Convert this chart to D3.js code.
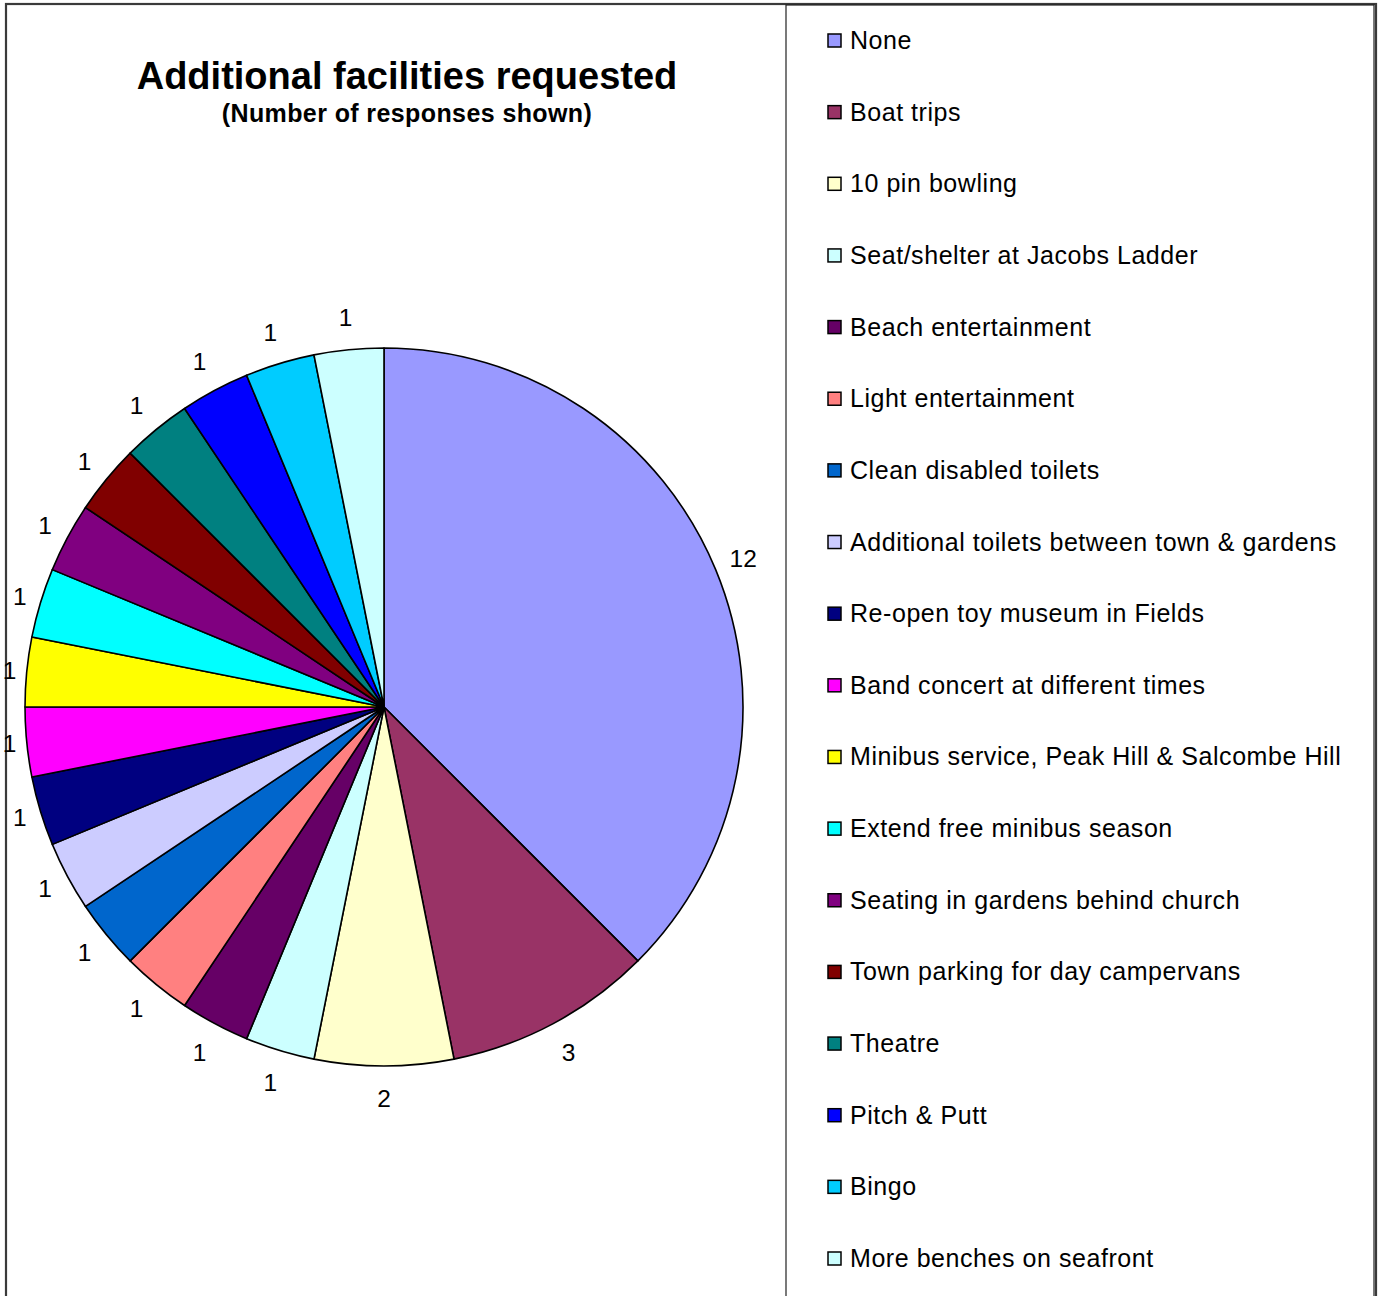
<!DOCTYPE html>
<html>
<head>
<meta charset="utf-8">
<script src="https://cdn.jsdelivr.net/npm/d3@7"></script>
<style>
html, body { margin: 0; padding: 0; background: #fff; }
svg { display: block; }
text { font-family: "Liberation Sans", Arial, sans-serif; fill: #000; }
</style>
</head>
<body>
<svg id="chart" width="1380" height="1296"></svg>
<script>
const categories = [
  "None", "Boat trips", "10 pin bowling", "Seat/shelter at Jacobs Ladder",
  "Beach entertainment", "Light entertainment", "Clean disabled toilets",
  "Additional toilets between town & gardens", "Re-open toy museum in Fields",
  "Band concert at different times", "Minibus service, Peak Hill & Salcombe Hill",
  "Extend free minibus season", "Seating in gardens behind church",
  "Town parking for day campervans", "Theatre", "Pitch & Putt", "Bingo",
  "More benches on seafront"
];
const values = [12, 3, 2, 1, 1, 1, 1, 1, 1, 1, 1, 1, 1, 1, 1, 1, 1, 1];
const colors = [
  "#9999FF", "#993366", "#FFFFCC", "#CCFFFF", "#660066", "#FF8080", "#0066CC",
  "#CCCCFF", "#000080", "#FF00FF", "#FFFF00", "#00FFFF", "#800080", "#800000",
  "#008080", "#0000FF", "#00CCFF", "#CCFFFF"
];
const titleText = "Additional facilities requested";
const subtitleText = "(Number of responses shown)";

const data = categories.map((c, i) => ({ name: c, value: values[i], color: colors[i] }));

const svg = d3.select("#chart");

// outer chart frame
svg.append("rect")
  .attr("x", 6).attr("y", 4).attr("width", 1370).attr("height", 1310)
  .attr("fill", "#fff").attr("stroke", "#3a3a3a").attr("stroke-width", 2.2);

// title
svg.append("text")
  .attr("x", 407).attr("y", 89)
  .attr("text-anchor", "middle")
  .style("font-size", "38px").style("font-weight", "bold")
  .text(titleText);
svg.append("text")
  .attr("x", 407).attr("y", 122)
  .attr("text-anchor", "middle")
  .style("font-size", "25px").style("font-weight", "bold")
  .style("letter-spacing", "0.4px")
  .text(subtitleText);

// pie
const cx = 384, cy = 707, R = 359;
const pie = d3.pie().sort(null).value(d => d.value);
const arcs = pie(data);
const arc = d3.arc().innerRadius(0).outerRadius(R);

const g = svg.append("g").attr("transform", `translate(${cx},${cy})`);
g.selectAll("path.slice")
  .data(arcs)
  .enter().append("path")
  .attr("class", "slice")
  .attr("d", arc)
  .attr("fill", d => d.data.color)
  .attr("stroke", "#000")
  .attr("stroke-width", 1.6)
  .attr("stroke-linejoin", "round");

// data labels
const labels = g.selectAll("text.lbl")
  .data(arcs)
  .enter().append("text")
  .attr("class", "lbl")
  .attr("text-anchor", "middle")
  .attr("dy", "0.35em")
  .style("font-size", "24.5px")
  .text(d => d.data.value);

labels.each(function(d) {
  const w = this.getComputedTextLength();
  const a = (d.startAngle + d.endAngle) / 2;
  const s = Math.sin(a), c = -Math.cos(a);
  const r = 367 + 24 * Math.abs(Math.cos(a)) + (w / 2) * Math.abs(s);
  let x = r * s, y = r * c;
  if (cx + x < 9) x = 9 - cx;
  d3.select(this).attr("x", x).attr("y", y);
});

// legend box
svg.append("rect")
  .attr("x", 786).attr("y", 5).attr("width", 588).attr("height", 1310)
  .attr("fill", "#fff").attr("stroke", "#222").attr("stroke-width", 1.2);

const legendY = d3.scalePoint().domain(categories).range([40, 1258]);
const leg = svg.selectAll("g.leg")
  .data(data)
  .enter().append("g")
  .attr("class", "leg")
  .attr("transform", d => `translate(828,${legendY(d.name)})`);
leg.append("rect")
  .attr("x", 0).attr("y", -6).attr("width", 13).attr("height", 13)
  .attr("fill", d => d.color)
  .attr("stroke", "#000").attr("stroke-width", 1.5);
leg.append("text")
  .attr("x", 22).attr("y", 9)
  .style("font-size", "25px")
  .style("letter-spacing", "0.55px")
  .text(d => d.name);
</script>
</body>
</html>
